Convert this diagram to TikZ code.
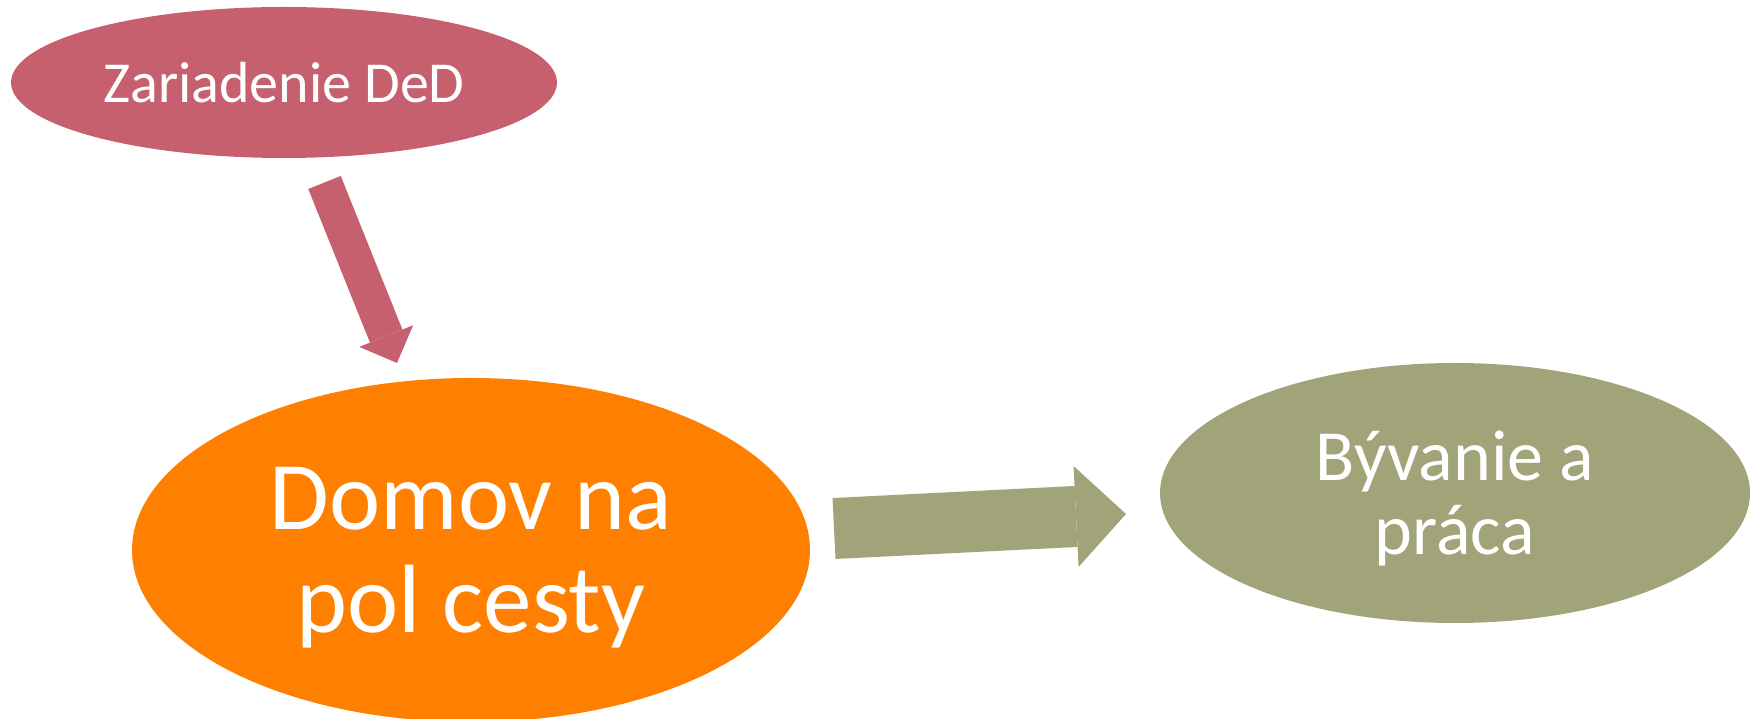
\documentclass[tikz,border=0pt]{standalone}
\usepackage{fontspec}
\setmainfont{Carlito}
\usetikzlibrary{shapes.geometric,arrows.meta}
\definecolor{ruza}{RGB}{198,96,110}
\definecolor{oranz}{RGB}{255,127,0}
\definecolor{oliva}{RGB}{161,163,120}
\begin{document}
\begin{tikzpicture}[x=0.1mm,y=-0.1mm,
  bublina/.style={ellipse,inner sep=0pt,text=white,align=center,text depth=0pt}]
\useasboundingbox (0,0) rectangle (1756,719);
\clip (0,0) rectangle (1756,719);

\node[bublina,fill=ruza,minimum width=54.6mm,minimum height=15.1mm,font=\fontsize{16.5}{19}\selectfont] (zar) at (284,82.5) {Zariadenie DeD};
\node[bublina,fill=oranz,minimum width=67.8mm,minimum height=34.4mm,font=\fontsize{27.6}{29.3}\selectfont] (dom) at (471,550) {Domov na\\pol cesty};
\node[bublina,fill=oliva,minimum width=59mm,minimum height=26mm,font=\fontsize{20.5}{21.1}\selectfont] (byv) at (1455,493) {Bývanie a\\práca};

% sipky
\coordinate (s1) at (324.5,182.5);
\coordinate (k1) at (397,363);
\draw[ruza,line width=3.5mm,-{Triangle[length=2.9mm,width=5.8mm,line width=0pt]}] (s1) -- (k1);
\coordinate (s2) at (834,528.5);
\coordinate (k2) at (1126,514);
\draw[oliva,line width=6.1mm,-{Triangle[length=5mm,width=10.1mm,line width=0pt]}] (s2) -- (k2);

\end{tikzpicture}
\end{document}
